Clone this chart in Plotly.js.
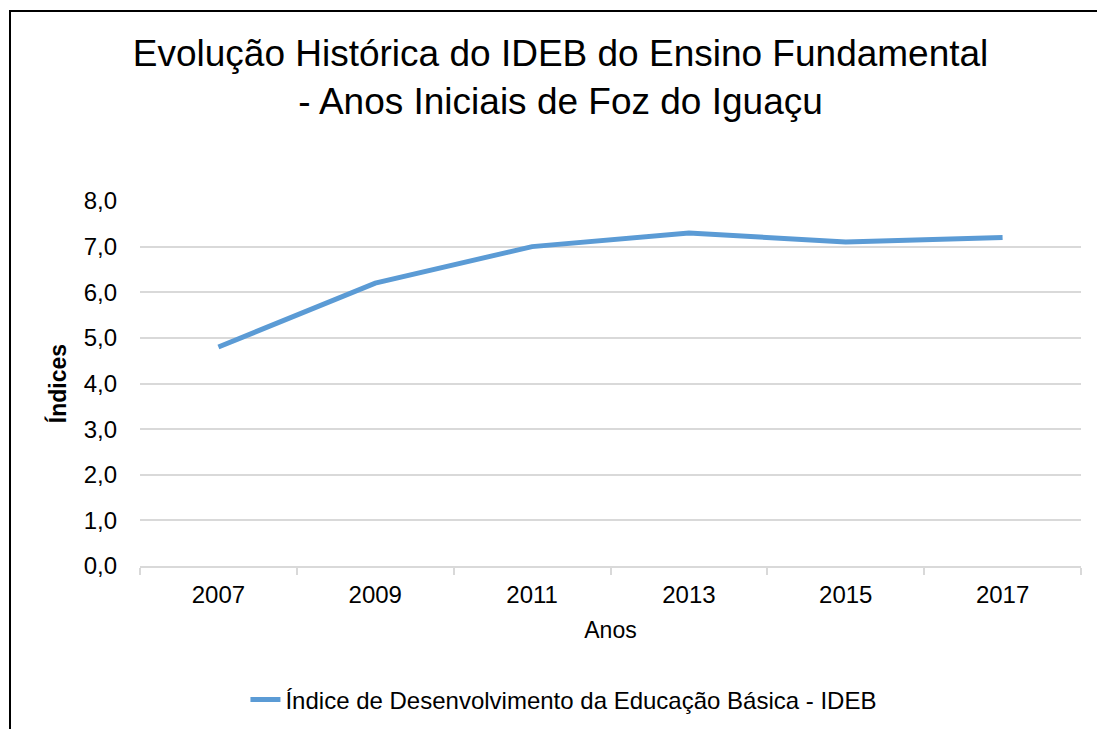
<!DOCTYPE html>
<html>
<head>
<meta charset="utf-8">
<script src="https://cdn.plot.ly/plotly-3.0.1.min.js"></script>
<style>
  html, body { margin: 0; padding: 0; background: #fff; overflow: hidden; }
  #wrap { position: relative; width: 1097px; height: 729px; }
  #chart { width: 1097px; height: 729px; }
  #frame { position: absolute; left: 9px; top: 10px; width: 1200px; height: 800px;
           border-left: 2px solid #000; border-top: 2px solid #000; pointer-events: none; }
</style>
</head>
<body>
<div id="wrap">
  <div id="chart"></div>
  <div id="frame"></div>
</div>
<script>
const years = ["2007", "2009", "2011", "2013", "2015", "2017"];
const idebValues = [4.8, 6.2, 7.0, 7.3, 7.1, 7.2];
const seriesName = "Índice de Desenvolvimento da Educação Básica - IDEB";
const yTicks = [0, 1, 2, 3, 4, 5, 6, 7, 8];

const font = "Liberation Sans, Arial, sans-serif";

const trace = {
  x: years,
  y: idebValues,
  type: "scatter",
  mode: "lines",
  name: seriesName,
  line: { color: "#5b9bd5", width: 5, shape: "linear" },
  showlegend: true
};

const layout = {
  width: 1097,
  height: 729,
  paper_bgcolor: "#ffffff",
  plot_bgcolor: "#ffffff",
  margin: { l: 140, r: 16, t: 201, b: 163, autoexpand: false },
  font: { family: font, color: "#000000", size: 24 },
  separators: ",.",
  title: {
    text: "Evolução Histórica do IDEB do Ensino Fundamental<br>- Anos Iniciais de Foz do Iguaçu",
    font: { family: font, size: 37, color: "#000000" },
    x: 0.511,
    xanchor: "center",
    xref: "container",
    y: 1 - 66 / 729,
    yanchor: "top",
    yref: "container"
  },
  xaxis: {
    type: "category",
    range: [-0.5, 5.5],
    automargin: false,
    tickson: "boundaries",
    ticks: "outside",
    ticklen: 7,
    tickcolor: "#d9d9d9",
    tickwidth: 2,
    showline: true,
    linecolor: "#d9d9d9",
    linewidth: 2,
    showgrid: false,
    ticklabelstandoff: 6,
    tickfont: { family: font, size: 24, color: "#000" },
    title: { text: "Anos", font: { family: font, size: 23, color: "#000" }, standoff: 15 },
    fixedrange: true
  },
  yaxis: {
    range: [0, 8],
    automargin: false,
    tickvals: yTicks,
    tickformat: ".1f",
    showgrid: true,
    gridcolor: "#d9d9d9",
    gridwidth: 2,
    zeroline: false,
    showline: false,
    ticks: "",
    ticklabelstandoff: 22,
    tickfont: { family: font, size: 24, color: "#000" },
    title: { text: "<b>Índices</b>", font: { family: font, size: 23, color: "#000" }, standoff: 10 },
    fixedrange: true
  },
  legend: {
    orientation: "h",
    x: 0.45,
    xanchor: "center",
    y: -0.367,
    yanchor: "middle",
    font: { family: font, size: 24, color: "#000" },
    bgcolor: "rgba(0,0,0,0)"
  }
};

Plotly.newPlot("chart", [trace], layout, { displayModeBar: false, staticPlot: true });
</script>
</body>
</html>
